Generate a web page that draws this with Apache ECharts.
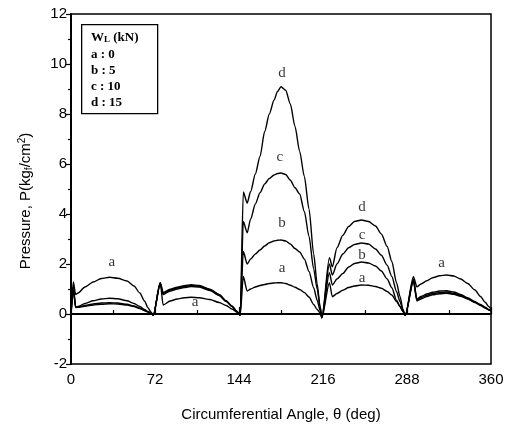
<!DOCTYPE html>
<html>
<head>
<meta charset="utf-8">
<script src="https://cdn.jsdelivr.net/npm/echarts@6/dist/echarts.min.js"></script>
<style>
html,body{margin:0;padding:0;background:#fff;}
#chart{width:527px;height:427px;}
</style>
</head>
<body>
<div id="chart"></div>
<script>
// Circumferential angle (deg) sample positions, five pads
var angles = [
  0, 2, 4, 6, 12, 19, 26, 33, 40, 48, 54, 59, 63, 66, 68.5, 70.5,
  76.5, 79, 85, 91, 97, 103, 110, 119, 127, 133, 138, 142, 145,
  147.7, 151, 154, 158, 162, 166, 170, 174, 177, 180, 184, 188, 192, 196, 200, 204, 208, 211, 213.5, 215,
  221.5, 224, 228, 233, 238, 243, 249, 255, 261, 266, 271, 275, 279, 282, 284.5, 286.5,
  293.5, 296.5, 300, 305, 310, 316, 322, 328, 334, 340, 346, 351, 355, 358, 360
];
// Pressure (kgf/cm^2), W_L = 0 kN
var pressureA = [
  0, 1.28, 0.78, 0.84, 1.08, 1.28, 1.42, 1.47, 1.43, 1.32, 1.12, 0.84, 0.52, 0.25, 0.08, -0.05,
  1.25, 0.36, 0.52, 0.60, 0.65, 0.67, 0.65, 0.58, 0.46, 0.34, 0.20, 0.08, -0.05,
  1.50, 0.92, 1.00, 1.08, 1.14, 1.18, 1.22, 1.24, 1.25, 1.25, 1.22, 1.15, 1.07, 0.98, 0.86, 0.68, 0.38, 0.18, 0.05, -0.15,
  1.25, 0.69, 0.82, 0.95, 1.06, 1.12, 1.16, 1.15, 1.10, 1.03, 0.90, 0.76, 0.50, 0.30, 0.10, -0.05,
  1.49, 1.09, 1.20, 1.33, 1.45, 1.53, 1.56, 1.52, 1.40, 1.22, 0.97, 0.70, 0.47, 0.30, 0.20
];
// W_L = 5 kN
var pressureB = [
  0, 1.10, 0.28, 0.30, 0.42, 0.53, 0.60, 0.63, 0.61, 0.53, 0.42, 0.30, 0.18, 0.10, 0.03, -0.05,
  1.20, 0.78, 0.92, 1.00, 1.06, 1.10, 1.08, 0.94, 0.74, 0.50, 0.30, 0.10, -0.05,
  2.50, 2.00, 2.20, 2.40, 2.56, 2.72, 2.85, 2.92, 2.95, 2.96, 2.92, 2.80, 2.62, 2.48, 2.20, 1.70, 1.05, 0.55, 0.15, -0.15,
  1.65, 1.16, 1.40, 1.62, 1.88, 2.02, 2.08, 2.04, 1.92, 1.72, 1.40, 1.05, 0.55, 0.30, 0.10, -0.05,
  1.40, 0.60, 0.70, 0.80, 0.87, 0.92, 0.93, 0.88, 0.78, 0.65, 0.50, 0.38, 0.27, 0.18, 0.12
];
// W_L = 10 kN
var pressureC = [
  0, 1.00, 0.27, 0.29, 0.34, 0.40, 0.44, 0.45, 0.44, 0.39, 0.32, 0.23, 0.14, 0.08, 0.02, -0.05,
  1.22, 0.82, 0.96, 1.04, 1.10, 1.14, 1.11, 0.97, 0.76, 0.52, 0.31, 0.11, -0.05,
  3.70, 3.25, 3.80, 4.40, 4.85, 5.20, 5.42, 5.56, 5.62, 5.64, 5.58, 5.35, 5.05, 4.80, 4.10, 3.10, 1.80, 1.00, 0.30, -0.15,
  2.00, 1.56, 2.00, 2.40, 2.65, 2.78, 2.84, 2.80, 2.60, 2.35, 1.95, 1.50, 0.90, 0.50, 0.15, -0.05,
  1.35, 0.56, 0.65, 0.75, 0.82, 0.86, 0.88, 0.83, 0.74, 0.62, 0.48, 0.36, 0.25, 0.17, 0.12
];
// W_L = 15 kN
var pressureD = [
  0, 0.95, 0.26, 0.27, 0.31, 0.36, 0.39, 0.41, 0.40, 0.36, 0.30, 0.22, 0.14, 0.08, 0.02, -0.05,
  1.25, 0.86, 0.99, 1.07, 1.13, 1.17, 1.14, 0.99, 0.78, 0.53, 0.32, 0.11, -0.05,
  4.88, 4.44, 4.90, 5.60, 6.30, 7.30, 8.00, 8.55, 8.90, 9.09, 8.95, 8.40, 7.50, 6.50, 5.50, 4.20, 2.40, 1.20, 0.30, -0.15,
  2.25, 1.89, 2.65, 3.15, 3.50, 3.70, 3.76, 3.70, 3.52, 3.20, 2.70, 2.10, 1.25, 0.70, 0.20, -0.05,
  1.30, 0.52, 0.60, 0.70, 0.77, 0.81, 0.83, 0.79, 0.71, 0.60, 0.46, 0.34, 0.24, 0.16, 0.12
];
// Curve tags placed on the plot
var tagAngles = [34.9, 106.3, 180.9, 179.1, 180.9, 180.9, 249.4, 249.4, 249.4, 249.4, 317.7];
var tagValues = [2.09, 0.49, 9.64, 6.28, 3.64, 1.84, 4.28, 3.16, 2.36, 1.44, 2.05];
var tagTexts  = ['a', 'a', 'd', 'c', 'b', 'a', 'd', 'c', 'b', 'a', 'a'];
// Legend box text
var legendTitle = ['W', 'L', ' (kN)'];
var legendRows = ['a : 0', 'b : 5', 'c : 10', 'd : 15'];
// Axis ticks
var xTicks = [0, 72, 144, 216, 288, 360];
var yTicks = [-2, 0, 2, 4, 6, 8, 10, 12];

function pairs(ys) { return angles.map(function (a, i) { return [a, ys[i]]; }); }

var chart = echarts.init(document.getElementById('chart'), null, { renderer: 'canvas' });
var lineStyle = { color: '#000', width: 1.4 };
var mkLine = function (name, ys) {
  return { name: name, type: 'line', data: pairs(ys), symbol: 'none', smooth: 0.25, smoothMonotone: 'x', lineStyle: lineStyle, silent: true, z: 3 };
};
var labelFont = '"Liberation Serif", "DejaVu Serif", serif';
var sansFont = '"Liberation Sans", Arial, sans-serif';

var series = [
  mkLine('a', pressureA), mkLine('b', pressureB), mkLine('c', pressureC), mkLine('d', pressureD),
  {
    type: 'line', data: [[xTicks[0], 0], [xTicks[xTicks.length - 1], 0]], symbol: 'none',
    lineStyle: { color: '#000', width: 2 }, silent: true, z: 2
  },
  {
    type: 'scatter', symbolSize: 0, silent: true, z: 5,
    data: tagAngles.map(function (a, i) { return { value: [a, tagValues[i]], name: tagTexts[i] }; }),
    label: { show: true, position: 'inside', formatter: '{b}', color: '#000', fontFamily: labelFont, fontSize: 15 }
  }
];

var legendLines = [];
legendRows.forEach(function (t, i) {
  legendLines.push({ type: 'text', left: 91, top: 48 + i * 16, style: { text: t, fill: '#000', font: 'bold 13px ' + labelFont } });
});

var option = {
  backgroundColor: '#fff',
  animation: false,
  grid: { left: 71, right: 36, top: 14, bottom: 63, show: true, borderColor: '#000', borderWidth: 1.5, containLabel: false },
  xAxis: {
    type: 'value', min: xTicks[0], max: xTicks[xTicks.length - 1], interval: 72,
    name: 'Circumferential Angle, \u03b8 (deg)', nameLocation: 'middle', nameGap: 43,
    nameTextStyle: { color: '#000', fontSize: 15, fontFamily: sansFont },
    axisLine: { show: true, lineStyle: { color: '#000', width: 2 } },
    axisTick: { show: true, inside: true, length: 7, lineStyle: { color: '#000', width: 1.2 } },
    minorTick: { show: true, splitNumber: 2, length: 4, lineStyle: { color: '#000', width: 1.2 } },
    axisLabel: { color: '#000', fontSize: 15, fontFamily: sansFont, margin: 8 },
    splitLine: { show: false }
  },
  yAxis: {
    type: 'value', min: yTicks[0], max: yTicks[yTicks.length - 1], interval: 2,
    name: '{n|Pressure, P(kg}{sub|f}{n|/cm}{sup|2}{n|)}', nameLocation: 'middle', nameGap: 36, nameRotate: 90,
    nameTextStyle: {
      color: '#000', fontSize: 15, fontFamily: sansFont, padding: [0, 24, 0, 0],
      rich: {
        n: { fontSize: 15, fontFamily: sansFont, color: '#000' },
        sub: { fontSize: 10, fontFamily: sansFont, color: '#000', padding: [6, 0, 0, 0] },
        sup: { fontSize: 10, fontFamily: sansFont, color: '#000', padding: [0, 0, 8, 0] }
      }
    },
    axisLine: { show: true, lineStyle: { color: '#000', width: 2 } },
    axisTick: { show: true, inside: false, length: 5, lineStyle: { color: '#000', width: 1.2 } },
    minorTick: { show: true, splitNumber: 2, length: 3, lineStyle: { color: '#000', width: 1.2 } },
    axisLabel: { color: '#000', fontSize: 15, fontFamily: sansFont, margin: 4 },
    splitLine: { show: false }
  },
  series: series,
  graphic: [
    { type: 'rect', left: 81, top: 24, shape: { width: 76, height: 89 }, style: { fill: '#fff', stroke: '#000', lineWidth: 1.3 }, z: 10 },
    {
      type: 'text', left: 91, top: 31, z: 11,
      style: {
        text: '{w|' + legendTitle[0] + '}{s|' + legendTitle[1] + '}{w|' + legendTitle[2] + '}',
        rich: {
          w: { font: 'bold 13px ' + labelFont, fill: '#000' },
          s: { font: 'bold 9px ' + labelFont, fill: '#000', padding: [5, 0, 0, 0] }
        }
      }
    }
  ].concat(legendLines.map(function (g) { g.z = 11; return g; }))
};
chart.setOption(option);
</script>
</body>
</html>
